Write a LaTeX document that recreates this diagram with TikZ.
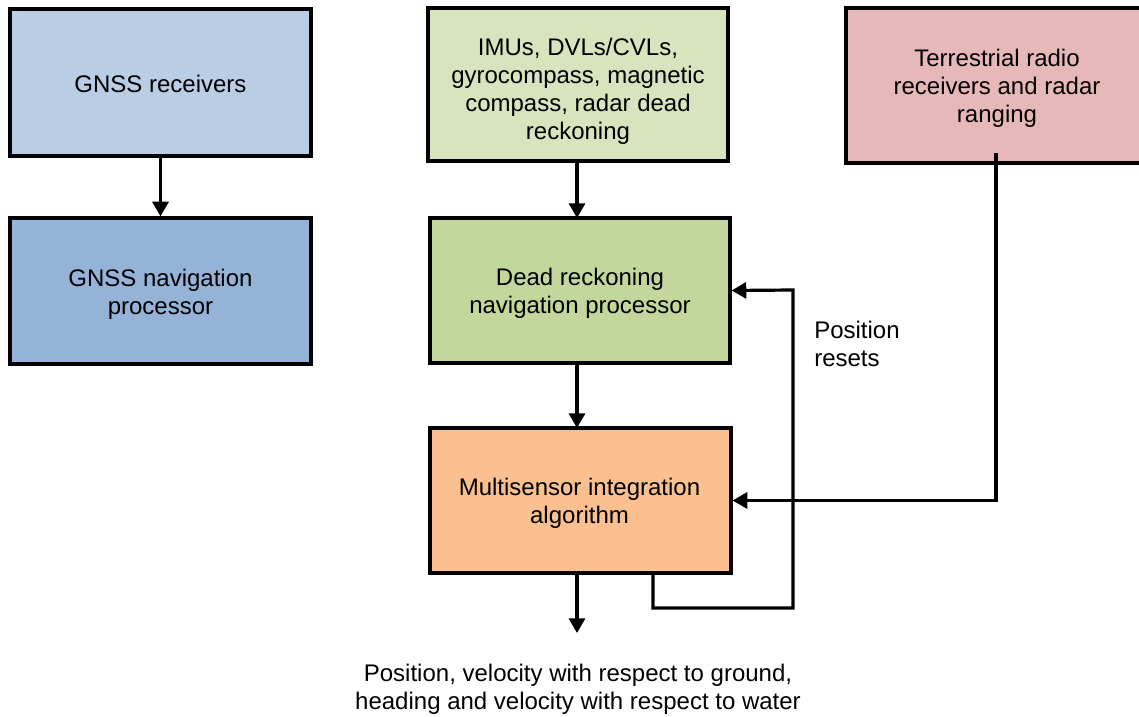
\documentclass[tikz,border=0pt]{standalone}
\usepackage{fontspec}
\setmainfont{Liberation Sans}
\usetikzlibrary{arrows.meta,calc}
\definecolor{cGR}{HTML}{B9CDE5}
\definecolor{cGP}{HTML}{95B3D7}
\definecolor{cIMU}{HTML}{D7E4BD}
\definecolor{cDR}{HTML}{C3D69B}
\definecolor{cMS}{HTML}{FAC090}
\definecolor{cRD}{HTML}{E6B9B8}
\tikzset{
  blk/.style={draw=black, line width=2.4pt, inner sep=0pt},
  txt/.style={align=center, inner sep=0pt,
    font=\fontsize{18pt}{21pt}\selectfont, text=black},
  conn/.style={line width=2.4pt, -{Triangle[width=12pt,length=11pt]}},
  lbl/.style={font=\fontsize{18pt}{21pt}\selectfont, inner sep=0pt}
}
\begin{document}
\begin{tikzpicture}[x=0.75pt,y=-0.75pt]
\useasboundingbox (0,0) rectangle (1139,717);
\clip (0,0) rectangle (1139,717);
\fill[white] (0,0) rectangle (1139,717);
\node[blk, fill=cGR, minimum width=225.75pt, minimum height=110.25pt] (gr) at (160.5,82.5) {};
\node[blk, fill=cGP, minimum width=225.75pt, minimum height=109.5pt] (gp) at (160.5,291) {};
\node[blk, fill=cIMU, minimum width=225pt, minimum height=114.75pt] (imu) at (578,84.5) {};
\node[blk, fill=cDR, minimum width=225pt, minimum height=108.75pt] (dr) at (580,290.5) {};
\node[blk, fill=cMS, minimum width=225.75pt, minimum height=108.75pt] (ms) at (580.5,500.5) {};
\node[blk, fill=cRD, minimum width=226.5pt, minimum height=116.25pt] (rd) at (997,85.5) {};
\node[txt] (grt) at ($(gr)+(0,1)$) {GNSS receivers};
\node[txt] (gpt) at ($(gp)+(0,3)$) {GNSS navigation\\processor};
\node[txt] (imut) at ($(imu)+(0,7)$) {IMUs, DVLs/CVLs,\\gyrocompass, magnetic\\compass, radar dead\\reckoning};
\node[txt] (drt) at ($(dr)+(0,3)$) {Dead reckoning\\navigation processor};
\node[txt] (mst) at ($(ms)+(-1,3)$) {Multisensor integration\\algorithm};
\node[txt] (rdt) at ($(rd)+(0,2.5)$) {Terrestrial radio\\receivers and radar\\ranging};
\node[lbl, anchor=west, align=left] (pr) at (814,344) {Position\\resets};
\node[lbl, align=center] (out) at (578,689) {Position, velocity with respect to ground,\\heading and velocity with respect to water};
\coordinate (o1) at (577,573);
\coordinate (o2) at (577,633);
\coordinate (r1) at (996,153);
\coordinate (f1) at (653,573);
\coordinate (f2) at (653,608);
\coordinate (f3) at (793,608);
\coordinate (f4) at (793,290);
\draw[conn] (gr.south) -- (gp.north);
\draw[conn] (577,161) -- (577,218);
\draw[conn] (577,363) -- (577,428);
\draw[conn] (o1) -- (o2);
\draw[conn] (r1) |- (ms.east);
\draw[conn] (f1) -- (f2) -- (f3) -- (f4) -- (dr.east);
\end{tikzpicture}
\end{document}
